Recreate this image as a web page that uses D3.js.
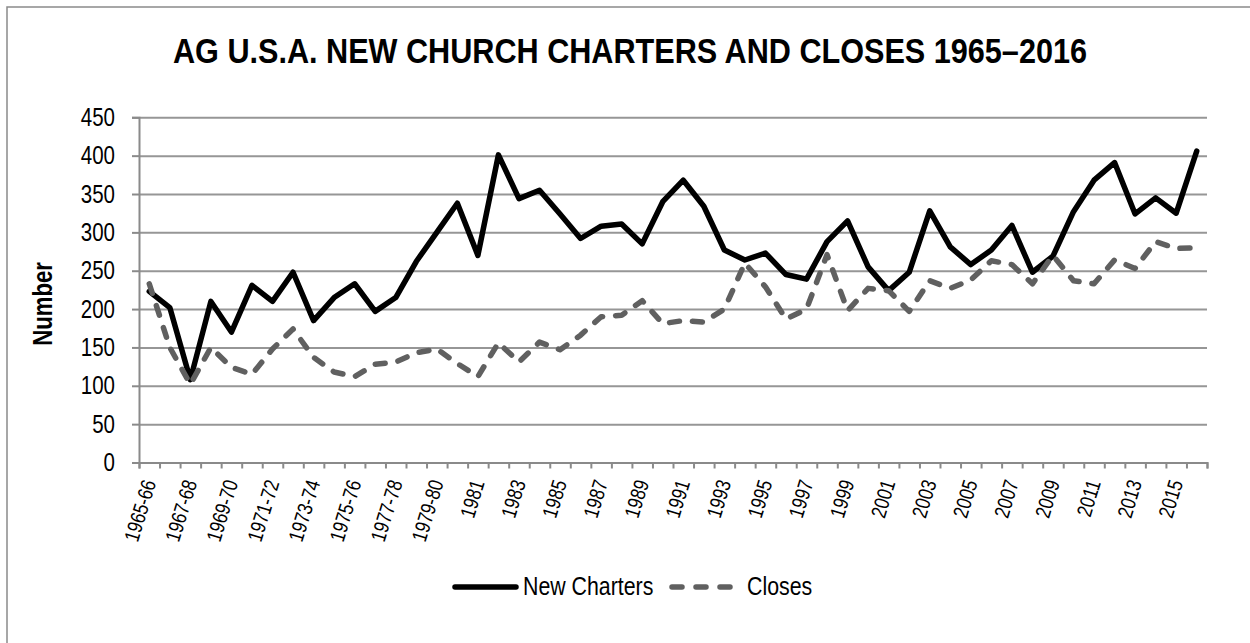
<!DOCTYPE html>
<html>
<head>
<meta charset="utf-8">
<script src="https://cdn.jsdelivr.net/npm/d3@7"></script>
<style>
  body { margin: 0; background: #fff; }
  text { font-family: "Liberation Sans Narrow", "Arial Narrow", "Liberation Sans", Arial, sans-serif; }
</style>
</head>
<body>
<svg class="chart"></svg>
<script>
var categories = ["1965-66", "1966-67", "1967-68", "1968-69", "1969-70", "1970-71", "1971-72",
  "1972-73", "1973-74", "1974-75", "1975-76", "1976-77", "1977-78", "1978-79", "1979-80",
  "1980", "1981", "1982", "1983", "1984", "1985", "1986", "1987", "1988", "1989", "1990",
  "1991", "1992", "1993", "1994", "1995", "1996", "1997", "1998", "1999", "2000", "2001",
  "2002", "2003", "2004", "2005", "2006", "2007", "2008", "2009", "2010", "2011", "2012",
  "2013", "2014", "2015", "2016"];

var newCharters = [223, 202, 108, 210, 170, 231, 210, 248, 185, 215, 233, 197, 215, 262,
  300, 338, 270, 401, 344, 355, 324, 292, 308, 311, 285, 340, 368, 334, 277, 264, 273,
  245, 239, 288, 315, 255, 224, 248, 328, 281, 258, 277, 309, 248, 269, 327, 368, 391,
  324, 345, 325, 406];

var closes = [233, 150, 102, 150, 124, 115, 148, 174, 137, 118, 112, 128, 131, 143,
  148, 129, 112, 156, 131, 157, 147, 166, 190, 192, 211, 181, 185, 183, 200, 260, 229,
  187, 200, 271, 198, 227, 224, 197, 237, 227, 238, 263, 258, 233, 270, 237, 233, 264,
  253, 288, 279, 280];

var yTicks = [0, 50, 100, 150, 200, 250, 300, 350, 400, 450];

let W = 1250, H = 643;
let pLeft = 139, pRight = 1207, pTop = 117.3, pBottom = 462.5;

// no narrow font installed: squeeze regular glyphs to Arial Narrow widths
function narrow(sel, k) {
  sel.each(function() {
    var len = this.getComputedTextLength();
    d3.select(this)
      .attr("textLength", len * k)
      .attr("lengthAdjust", "spacingAndGlyphs");
  });
}

var svg = d3.select(".chart")
  .attr("width", W)
  .attr("height", H);

// frame (only top/left edges fall inside the picture)
svg.append("rect")
  .attr("x", 7).attr("y", 7)
  .attr("width", 1260).attr("height", 660)
  .attr("fill", "none")
  .attr("stroke", "#8a8a8a")
  .attr("stroke-width", 1.5);

var xS = d3.scaleBand()
  .domain(categories)
  .range([pLeft, pRight])
  .padding(0);

// boundaries between categories, for the tick marks
var xIdx = d3.scaleLinear()
  .domain([0, categories.length])
  .range([pLeft, pRight]);

var yS = d3.scaleLinear()
  .domain([0, 450])
  .range([pBottom, pTop]);

// gridlines
svg.append("g")
  .attr("transform", "translate(" + pLeft + ",0)")
  .call(d3.axisLeft(yS).tickValues(yTicks.slice(1)).tickSize(-(pRight - pLeft)).tickFormat(""))
  .call(g => g.select(".domain").remove())
  .selectAll("line")
  .attr("stroke", "#969696")
  .attr("stroke-width", 2);

// y axis
var yAxis = svg.append("g")
  .attr("transform", "translate(" + pLeft + ",0)")
  .call(d3.axisLeft(yS).tickValues(yTicks).tickSize(7).tickPadding(17));
yAxis.select(".domain").attr("stroke", "#8a8a8a").attr("stroke-width", 2);
yAxis.selectAll("line").attr("stroke", "#8a8a8a").attr("stroke-width", 2);
yAxis.selectAll("text")
  .attr("font-size", "25px")
  .attr("fill", "#000")
  .style("font-family", "'Liberation Sans Narrow', 'Arial Narrow', 'Liberation Sans', sans-serif")
  .call(narrow, 0.82);

// x axis ticks at category boundaries
var xAxis = svg.append("g")
  .attr("transform", "translate(0," + pBottom + ")")
  .call(d3.axisBottom(xIdx).tickValues(d3.range(categories.length + 1)).tickSize(6).tickFormat(""));
xAxis.select(".domain").attr("stroke", "#8a8a8a").attr("stroke-width", 2);
xAxis.selectAll("line").attr("stroke", "#8a8a8a").attr("stroke-width", 2);

// x labels, every other category
var xLab = svg.append("g")
  .attr("transform", "translate(0," + pBottom + ")")
  .call(d3.axisBottom(xS).tickValues(categories.filter((d, i) => i % 2 === 0)).tickSize(0));
xLab.select(".domain").remove();
xLab.selectAll("text")
  .attr("y", 0)
  .attr("dy", 0)
  .attr("text-anchor", "end")
  .attr("transform", "translate(7,20) rotate(-73)")
  .attr("font-size", "21px")
  .attr("fill", "#000")
  .style("font-family", "'Liberation Sans Narrow', 'Arial Narrow', 'Liberation Sans', sans-serif")
  .call(narrow, 0.82);

// lines
var line = d3.line()
  .x((d, i) => xS(categories[i]) + xS.bandwidth() / 2)
  .y(d => yS(d));

svg.append("path")
  .datum(newCharters)
  .attr("d", line)
  .attr("fill", "none")
  .attr("stroke", "#000")
  .attr("stroke-width", 5.5)
  .attr("stroke-linejoin", "round")
  .attr("stroke-linecap", "round");

svg.append("path")
  .datum(closes)
  .attr("d", line)
  .attr("fill", "none")
  .attr("stroke", "#606060")
  .attr("stroke-width", 5.5)
  .attr("stroke-dasharray", "10,13")
  .attr("stroke-linejoin", "round")
  .attr("stroke-linecap", "round");

// title
svg.append("text")
  .attr("x", 630)
  .attr("y", 63)
  .attr("text-anchor", "middle")
  .attr("font-size", "35px")
  .attr("font-weight", "bold")
  .attr("textLength", 914)
  .attr("lengthAdjust", "spacingAndGlyphs")
  .text("AG U.S.A. NEW CHURCH CHARTERS AND CLOSES 1965\u20132016");

// y label
svg.append("text")
  .attr("transform", "translate(52,304) rotate(-90)")
  .attr("text-anchor", "middle")
  .attr("font-size", "27px")
  .attr("font-weight", "bold")
  .text("Number")
  .call(narrow, 0.82);

// legend
var lg = svg.append("g");
lg.append("line")
  .attr("x1", 455).attr("x2", 516)
  .attr("y1", 587).attr("y2", 587)
  .attr("stroke", "#000")
  .attr("stroke-width", 5.5)
  .attr("stroke-linecap", "round");
lg.append("text")
  .attr("x", 523).attr("y", 595)
  .attr("font-size", "26px")
  .text("New Charters")
  .call(narrow, 0.82);
lg.append("line")
  .attr("x1", 672).attr("x2", 736)
  .attr("y1", 587).attr("y2", 587)
  .attr("stroke", "#606060")
  .attr("stroke-width", 5.5)
  .attr("stroke-dasharray", "10,14")
  .attr("stroke-linecap", "round");
lg.append("text")
  .attr("x", 747).attr("y", 595)
  .attr("font-size", "26px")
  .text("Closes")
  .call(narrow, 0.82);
</script>
</body>
</html>
